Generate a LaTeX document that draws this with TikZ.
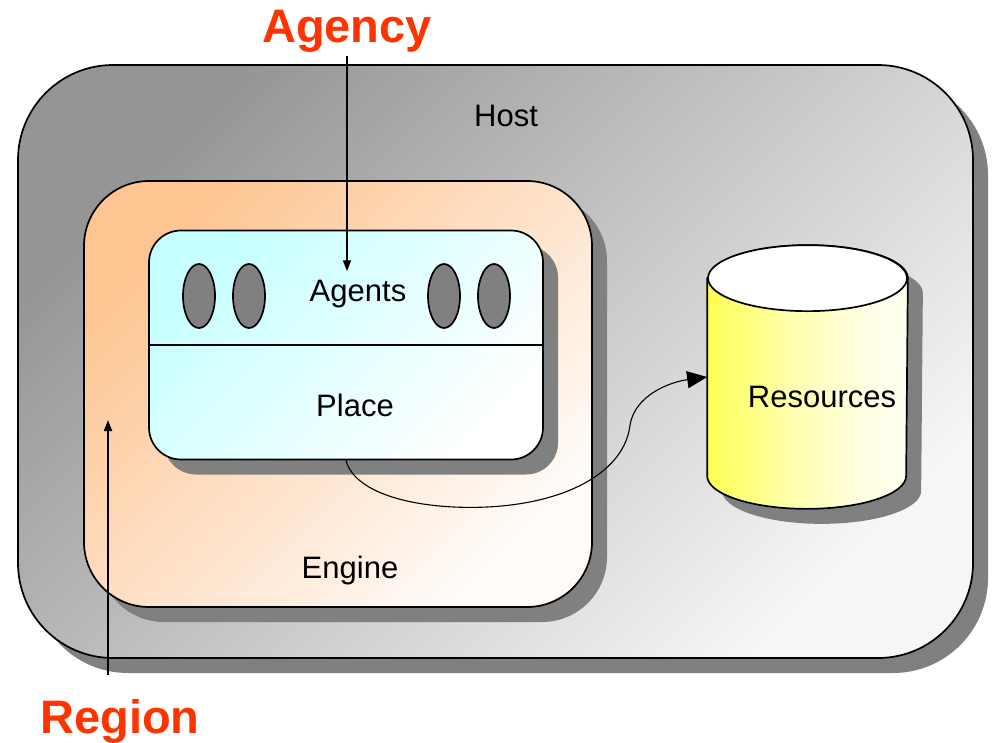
\documentclass[tikz,border=0pt]{standalone}
\usepackage{fontspec}
\setmainfont{Liberation Sans}
\usetikzlibrary{calc}
\usetikzlibrary{shapes.geometric}
\usetikzlibrary{positioning}
\usetikzlibrary{shadows}
\usetikzlibrary{arrows.meta}

\definecolor{hostdark}{HTML}{959595}
\definecolor{hostlight}{HTML}{F6F6F6}
\definecolor{enginedark}{HTML}{FDC592}
\definecolor{enginelight}{HTML}{FFFCFA}
\definecolor{placedark}{HTML}{C6FFFF}
\definecolor{shadowgray}{HTML}{808080}
\definecolor{labelred}{HTML}{FF3300}

\pgfdeclarehorizontalshading{resshade}{100bp}{color(0bp)=(yellow); color(12bp)=(yellow);
    color(28bp)=(yellow!62); color(45bp)=(yellow!33); color(65bp)=(yellow!10);
    color(85bp)=(white); color(100bp)=(white)}

\begin{document}
\begin{tikzpicture}[x=1pt, y=-1pt, line width=1.7pt]

\tikzset{
    myarrow/.style={-{Triangle[length=11pt, width=8pt]}, line width=1.7pt},
    bigarrow/.style={-{Triangle[length=20pt, width=17pt]}, line width=1.1pt},
    dropped/.style={drop shadow={shadow xshift=15pt, shadow yshift=-15pt, fill=shadowgray, opacity=1}},
    box/.style={draw, rectangle, rounded corners=#1, dropped},
    agent/.style={draw, ellipse, fill=shadowgray, minimum width=32pt, minimum height=64pt, inner sep=0pt},
    lbl/.style={font=\fontsize{31}{37}\selectfont, inner sep=3pt},
    title/.style={font=\fontsize{47}{55}\selectfont\bfseries, text=labelred, inner sep=3pt}
}

\useasboundingbox (0,0) rectangle (995,742);

%%%%%%%%%%%%%%%%%%%%%%%%%%%%%%%%%%%%%%%%%%%%%%%%%%%%%%%%%
%                       Begin Picture                   %
%%%%%%%%%%%%%%%%%%%%%%%%%%%%%%%%%%%%%%%%%%%%%%%%%%%%%%%%%

% Block Host
\node[box=95pt, minimum width=955pt, minimum height=593pt,
      top color=hostdark, bottom color=hostlight, shading angle=45] (Host) at (495.5,361.5) {};
\node[lbl] (hostlbl) at (506,116) {Host};

% Block Engine
\node[box=65pt, minimum width=508pt, minimum height=426pt,
      top color=enginedark, bottom color=enginelight, shading angle=45] (Engine) at (338,394) {};
\node[lbl] (enginelbl) at (350,570) {Engine};

% Block Place
\node[box=32pt, minimum width=394pt, minimum height=229pt,
      top color=placedark, bottom color=white, shading angle=45] (Place) at (346,345) {};
\draw (Place.west) -- (Place.east);
\node[lbl] (agentslbl) at (358,294) {Agents};
\node[lbl] (placelbl) at (355,405) {Place};

% Agents
\foreach \i/\x in {1/199, 2/249, 3/444, 4/494}
    \node[agent] (a\i) at (\x,296) {};

% Block Resources
\node[minimum width=199pt, minimum height=262pt, inner sep=0pt] (Res) at (807.5,377) {};
\draw[dropped, shading=resshade]
    let \p1 = (Res.north west),
        \p2 = (Res.south east)
    in
    (\x1,\y1-33pt) -- (\x1,\y2+33pt)
    arc[start angle=180, end angle=360, x radius=99.5pt, y radius=33pt]
    -- (\x2,\y1-33pt)
    arc[start angle=0, end angle=180, x radius=99.5pt, y radius=33pt] -- cycle;
\draw[fill=white] let \p1 = (Res.north) in
    (\x1,\y1-33pt) ellipse[x radius=99.5pt, y radius=33pt];
\node[lbl] (reslbl) at (822,397) {Resources};

% Place -> Resources
\draw[bigarrow] (Place.south) .. controls (355,495) and (420,510) .. (487,507)
    .. controls (570,503) and (625,470) .. (630,425)
    .. controls (635,395) and (670,382) .. (Res.west);

%%% Labels %%%

% Agency
\node[title] (Agency) at (347,31) {Agency};
\draw[myarrow, shorten >=5pt] (Agency.south) -- (Agency.south |- agentslbl.north);

% Region
\node[title] (Region) at (120,721) {Region};
\coordinate (regtip) at (108,420);
\draw[myarrow] ($(Region.north -| regtip)+(0,-20)$) -- (regtip);

\end{tikzpicture}
\end{document}
